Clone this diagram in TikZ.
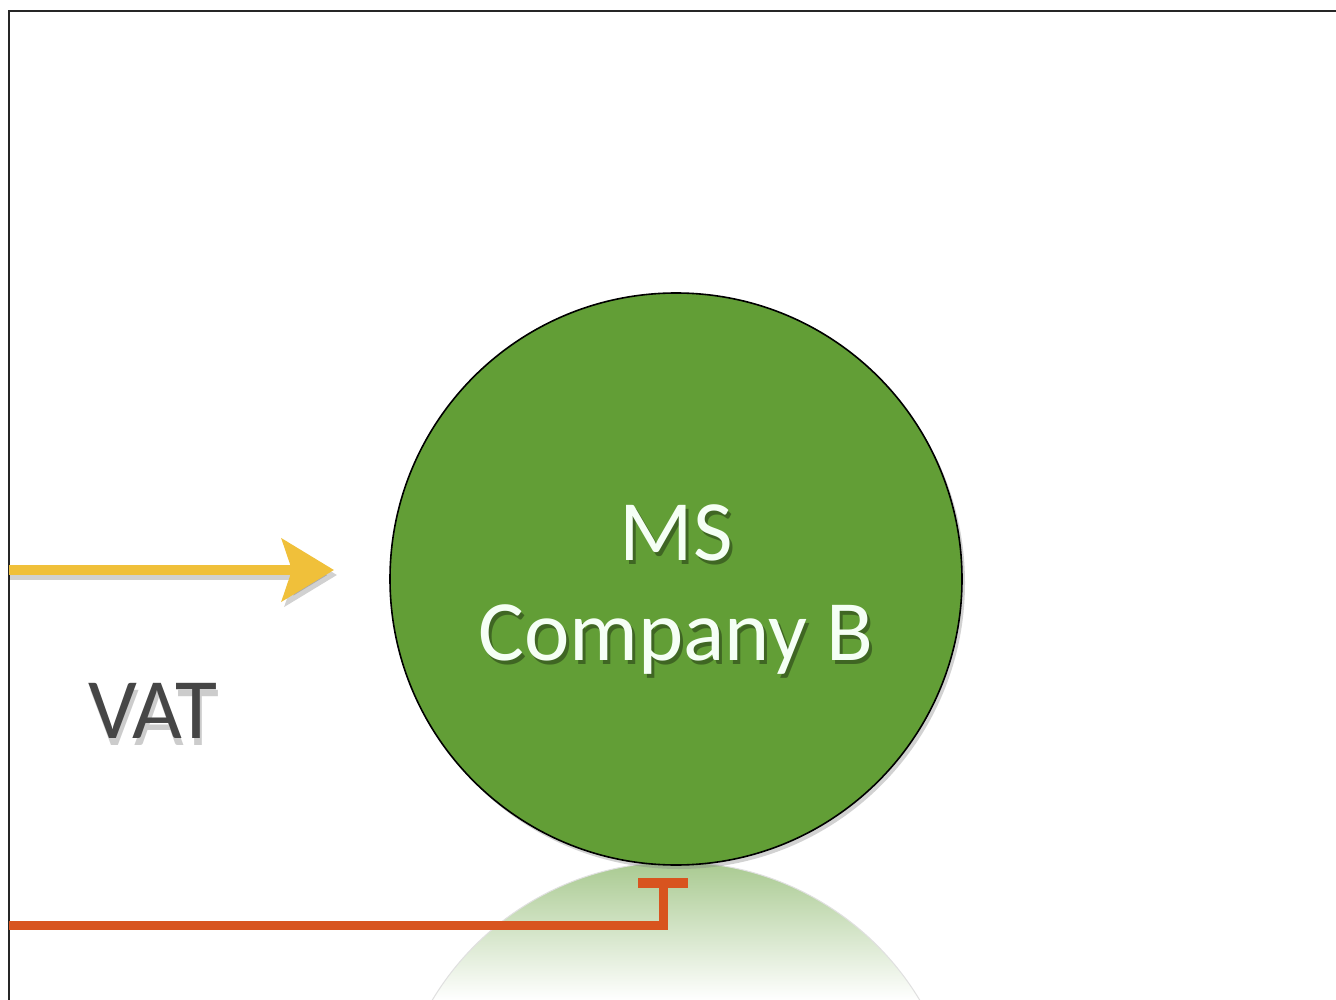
\documentclass[tikz,border=0pt]{standalone}
\usepackage{fontspec}
\newfontfamily\calib{Carlito}
\usetikzlibrary{arrows.meta,shadows}
\definecolor{cgreen}{HTML}{629E36}
\definecolor{cyellow}{HTML}{F0C03A}
\definecolor{corange}{HTML}{D8541F}
\definecolor{cgray}{HTML}{464646}
\tikzset{
  bigtext/.style={font=\calib\fontsize{86}{100}\selectfont, inner sep=0pt, anchor=base},
  wlabel/.style={bigtext, text=white!96!green},
  shadowtext/.style={bigtext, text=black, opacity=#1},
  conn/.style={line join=miter, line cap=butt},
}
\begin{document}
\begin{tikzpicture}[x=1pt,y=-1pt]
\useasboundingbox (0,0) rectangle (1336,1000);
\fill[white] (0,0) rectangle (1336,1000);
% frame
\draw[line width=2pt, black!85] (9,1000) -- (9,11) -- (1336,11);

% reflection of circle
\begin{scope}
  \clip (676,1146) circle[radius=284pt];
  \shade[top color=cgreen!55!white, bottom color=white] (380,862) rectangle (975,1000);
\end{scope}
\draw[black!12, line width=1pt] (676,1146) circle[radius=284pt];

% circle
\node[circle, draw=black, line width=1.6pt, fill=cgreen, minimum size=572pt, inner sep=0pt,
      drop shadow={shadow xshift=3pt, shadow yshift=-4pt, opacity=0.35}] (cB) at (676,579) {};

% text shadows
\node[shadowtext=0.35] (mss) at (679,564) {MS};
\node[shadowtext=0.35] (cos) at (679,664) {Company B};
\node[wlabel] (ms) at (676,560) {MS};
\node[wlabel] (co) at (676,660) {Company B};

% VAT
\node[bigtext, text=black, opacity=0.2] (vats) at (155,745) {VAT};
\node[bigtext, text=cgray] (vat) at (153,738) {VAT};

% yellow arrow
\coordinate (ya) at (9,570);
\coordinate (yb) at (334,570);
\coordinate (yas) at (9,575);
\coordinate (ybs) at (337,575);
\draw[conn, black, opacity=0.18, line width=10pt, -{Stealth[length=52pt,width=62pt,inset=10pt]}] (yas) -- (ybs);
\draw[conn, cyellow, line width=10pt, -{Stealth[length=52pt,width=62pt,inset=10pt]}] (ya) -- (yb);

% orange line with T bar
\coordinate (oa) at (9,925);
\coordinate (ob) at (663,878);
\draw[conn, corange, line width=9pt, -{Bar[width=50pt,line width=10pt]}] (oa) -| (ob);
\end{tikzpicture}
\end{document}
